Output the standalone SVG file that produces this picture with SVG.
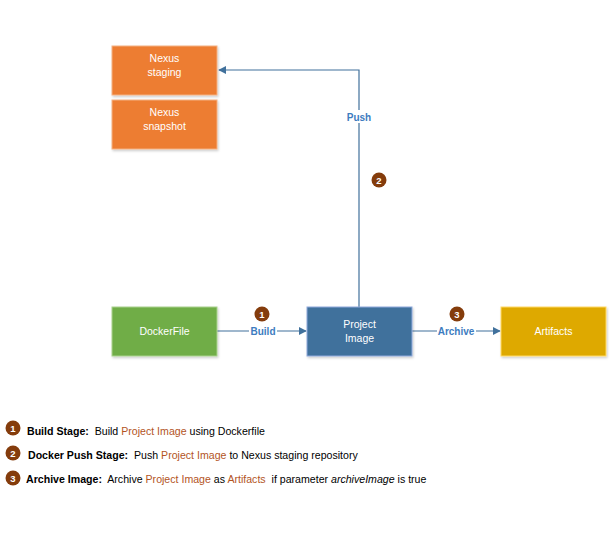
<svg xmlns="http://www.w3.org/2000/svg" width="612" height="537" viewBox="0 0 612 537">
<style>
.t{font-family:"Liberation Sans",Arial,sans-serif;font-size:10.5px;fill:#fff;text-anchor:middle}
.lbl{font-family:"Liberation Sans",Arial,sans-serif;font-size:10px;fill:#3D7CC0;text-anchor:middle;font-weight:bold}
.conn{stroke:#41719C;stroke-width:1.2;fill:none}
.bn{font-family:"Liberation Sans",Arial,sans-serif;font-size:9.5px;font-weight:bold;fill:#fff;text-anchor:middle}
.lg{font-family:"Liberation Sans",Arial,sans-serif;font-size:10.6px;fill:#000;white-space:pre}
.b{font-weight:bold}
.hl{fill:#B3541E}
</style>
<defs>
<marker id="ah" viewBox="0 0 10 10" refX="9" refY="5" markerWidth="8" markerHeight="8" orient="auto" markerUnits="userSpaceOnUse"><path d="M0,0 L10,5 L0,10 z" fill="#41719C"/></marker>
<filter id="sh" x="-10%" y="-10%" width="130%" height="130%"><feDropShadow dx="1" dy="1.5" stdDeviation="1" flood-color="#000" flood-opacity="0.2"/></filter>
<g id="badge"><circle r="7.5" fill="#843C0C"/></g>
</defs>
<g id="connectors">
<path class="conn" d="M217,331 H306" marker-end="url(#ah)"/>
<path class="conn" d="M412,331 H500" marker-end="url(#ah)"/>
<path class="conn" d="M359,307 V70 H219" marker-end="url(#ah)"/>
<rect x="249" y="325" width="28" height="12" fill="#fff"/>
<text class="lbl" x="263" y="335">Build</text>
<rect x="437" y="325" width="39" height="12" fill="#fff"/>
<text class="lbl" x="456" y="335">Archive</text>
<rect x="346" y="110" width="27" height="13" fill="#fff"/>
<text class="lbl" x="359" y="121">Push</text>
</g>
<g id="nexus-staging"><rect x="112" y="46" width="105" height="49" fill="#ED7D31" stroke="#F4B183" filter="url(#sh)"/><text class="t" x="164.5" y="62">Nexus</text><text class="t" x="164.5" y="76">staging</text></g>
<g id="nexus-snapshot"><rect x="112" y="100" width="105" height="49" fill="#ED7D31" stroke="#F4B183" filter="url(#sh)"/><text class="t" x="164.5" y="116">Nexus</text><text class="t" x="164.5" y="130">snapshot</text></g>
<g id="dockerfile"><rect x="112" y="307" width="105" height="49" fill="#70AD47" stroke="#A9D18E" filter="url(#sh)"/><text class="t" x="164.5" y="335">DockerFile</text></g>
<g id="project-image"><rect x="307" y="307" width="105" height="49" fill="#41719C" stroke="#8FAADC" filter="url(#sh)"/><text class="t" x="359.5" y="328">Project</text><text class="t" x="359.5" y="342">Image</text></g>
<g id="artifacts"><rect x="501" y="307" width="105" height="49" fill="#DEA900" stroke="#FFD966" filter="url(#sh)"/><text class="t" x="553.5" y="335">Artifacts</text></g>
<g id="badge1"><use href="#badge" x="262" y="314"/><text class="bn" x="262" y="317.5">1</text></g>
<g id="badge2"><use href="#badge" x="379" y="180"/><text class="bn" x="379" y="183.5">2</text></g>
<g id="badge3"><use href="#badge" x="457" y="314"/><text class="bn" x="457" y="317.5">3</text></g>
<g id="legend">
<use href="#badge" x="13" y="428"/><text class="bn" x="13" y="431.5">1</text>
<use href="#badge" x="13" y="453"/><text class="bn" x="13" y="456.5">2</text>
<use href="#badge" x="13" y="478"/><text class="bn" x="13" y="481.5">3</text>
<text class="lg" x="27" y="435" xml:space="preserve"><tspan class="b">Build Stage:</tspan>  Build <tspan class="hl">Project Image</tspan> using Dockerfile</text>
<text class="lg" x="28" y="459" xml:space="preserve"><tspan class="b">Docker Push Stage:</tspan>  Push <tspan class="hl">Project Image</tspan> to Nexus staging repository</text>
<text class="lg" x="26" y="483" xml:space="preserve"><tspan class="b">Archive Image:</tspan>  Archive <tspan class="hl">Project Image</tspan> as <tspan class="hl">Artifacts</tspan>  if parameter <tspan font-style="italic">archiveImage</tspan> is true</text>
</g>
</svg>
